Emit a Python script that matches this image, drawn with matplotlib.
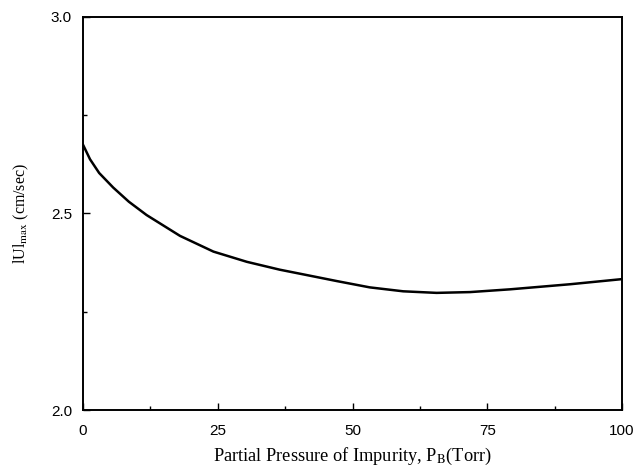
import numpy as np
import matplotlib
matplotlib.use("Agg")
import matplotlib.pyplot as plt
from matplotlib.ticker import MultipleLocator

# curve
pressure = [0, 1.3, 3.0, 5.6, 8.5, 11.8, 18.0, 24.2, 30.4, 36.5, 40.9, 47.1,
            53.2, 59.4, 65.6, 71.8, 79.2, 90.4, 100]
u_max = [2.675, 2.638, 2.603, 2.566, 2.530, 2.496, 2.443, 2.403, 2.377, 2.357,
         2.345, 2.328, 2.312, 2.302, 2.298, 2.300, 2.307, 2.320, 2.333]

xticks = [0, 25, 50, 75, 100]
yticks = [2.0, 2.5, 3.0]

plt.rcParams['mathtext.fontset'] = 'stix'

fig = plt.figure(figsize=(6.36, 4.71), dpi=100)
ax = fig.add_axes([0.1305, 0.1295, 0.8475, 0.8345])

ax.plot(pressure, u_max, color='k', linewidth=1.8)

ax.set_xlim(0, 100)
ax.set_ylim(2.0, 3.0)
ax.set_xticks(xticks)
ax.set_yticks(yticks)
ax.set_yticklabels(['%.1f' % v for v in yticks])
ax.xaxis.set_minor_locator(MultipleLocator(12.5))
ax.yaxis.set_minor_locator(MultipleLocator(0.25))

ax.tick_params(which='both', direction='in', top=False, right=False,
               width=1.0, labelsize=11)
ax.tick_params(which='major', length=5)
ax.tick_params(which='minor', length=3)
ax.tick_params(axis='x', pad=10)
ax.tick_params(axis='y', pad=8)
for lab in ax.get_xticklabels() + ax.get_yticklabels():
    lab.set_family('Liberation Sans')

for sp in ax.spines.values():
    sp.set_linewidth(1.4)

ax.set_xlabel(r'Partial Pressure of Impurity, P$_{\rm B}$(Torr)',
              family='Liberation Serif', fontsize=13.2, labelpad=6)
ax.set_ylabel(r'lUl$_{\rm max}$ (cm/sec)', family='Liberation Serif',
              fontsize=11.5, labelpad=14)

fig.savefig('out.png', dpi=100)
